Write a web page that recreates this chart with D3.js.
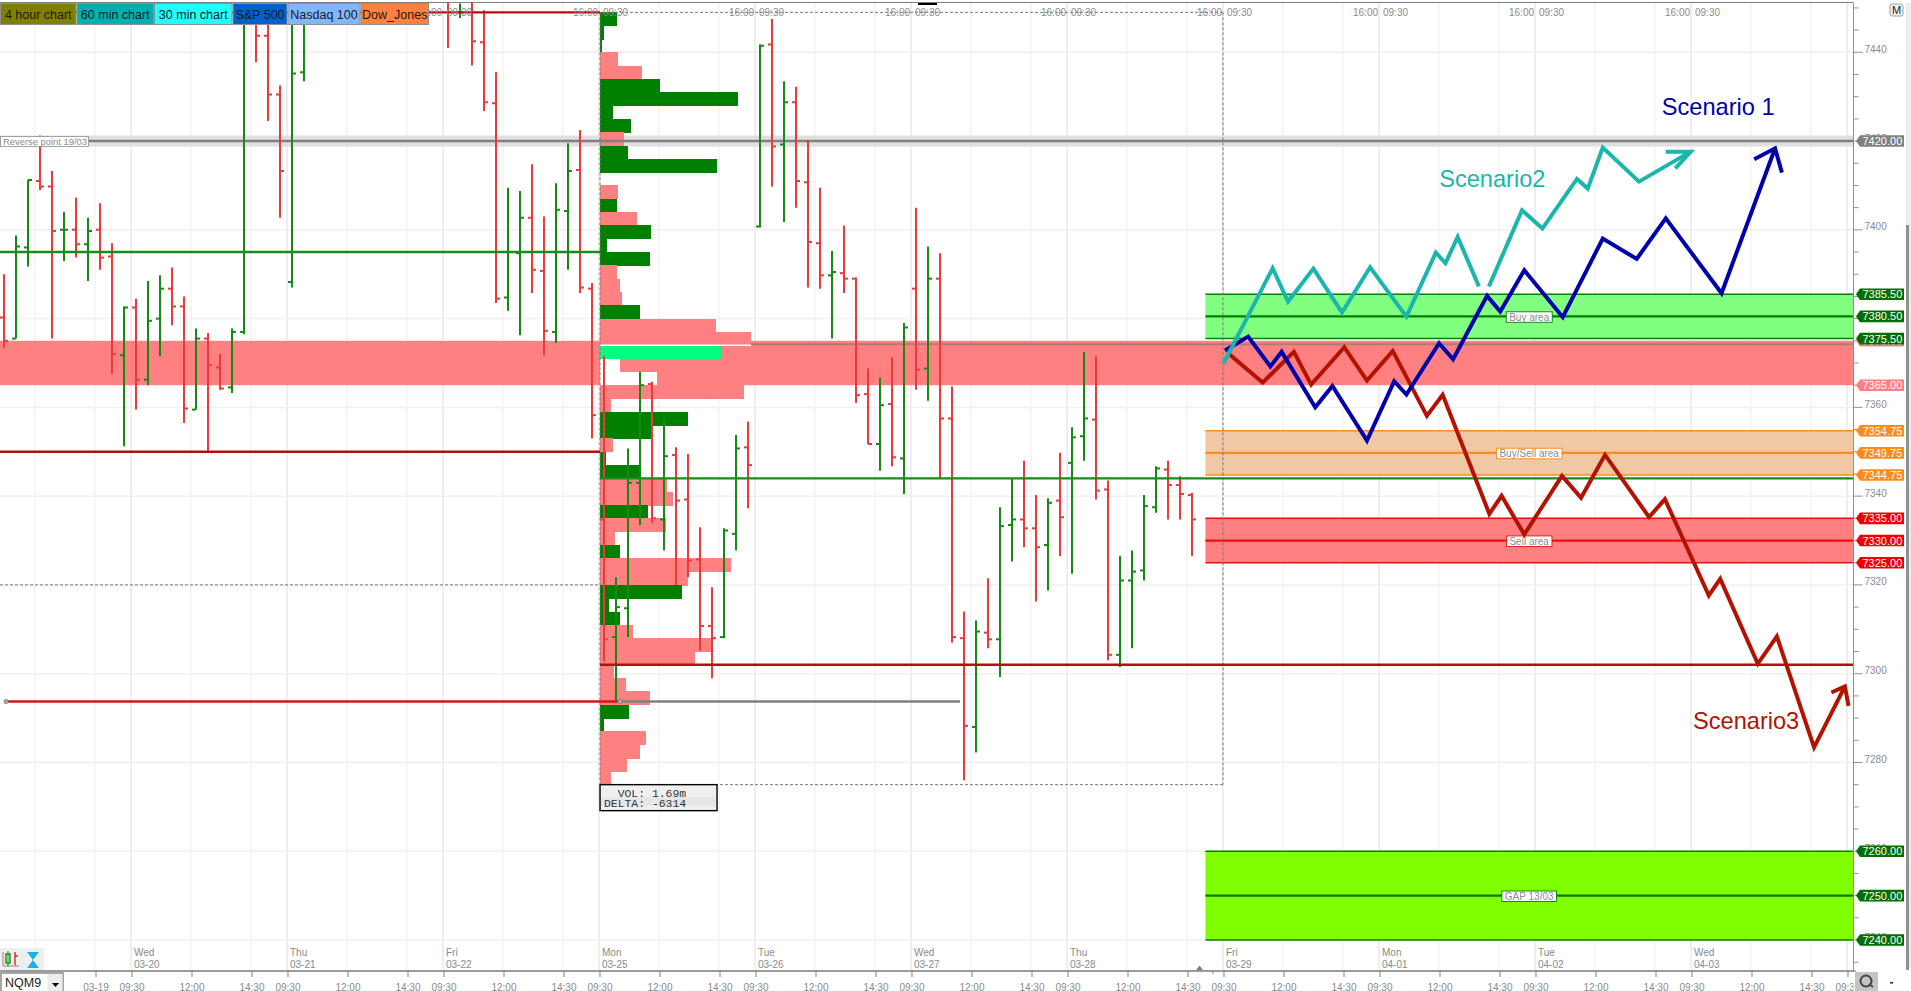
<!DOCTYPE html>
<html><head><meta charset="utf-8">
<script src="https://cdn.jsdelivr.net/npm/d3@7"></script>
<style>html,body{margin:0;padding:0;background:#fff;overflow:hidden}svg{display:block}text{font-family:"Liberation Sans",Arial,sans-serif}</style>
</head><body><svg id="c" width="1911" height="991"></svg>
<script>
// ---- OHLC bars (30 minute) ----
const barIndex=[0,1,2,3,4,5,6,7,8,9,10,11,12,13,14,15,16,17,18,19,20,21,22,23,24,25,37,38,39,40,41,42,43,44,45,46,47,48,49,50,51,52,53,54,55,56,57,58,59,60,61,62,63,64,65,66,67,68,69,70,71,72,73,74,75,76,77,78,79,80,81,82,83,84,85,86,87,88,89,90,91,92,93,94,95,96,97,98,99];
const highs=[7390,7398.75,7411.25,7421.25,7413.25,7404,7407.25,7402.75,7406,7397,7382.75,7384.5,7388.5,7389.75,7391.5,7385,7377.75,7376.75,7372,7377.75,7450,7452,7452,7432.5,7452,7452,7452,7451,7452,7449.5,7435.5,7409.5,7408.75,7414.75,7403,7410.5,7419.5,7422.5,7388,7371.5,7321.75,7350.75,7368,7365.75,7357.75,7351,7349.5,7333,7319.5,7332.75,7353.75,7356.75,7441.75,7447.5,7433.5,7432.25,7420.25,7409.5,7395.25,7401,7389.25,7368.75,7366.75,7371.25,7379,7405,7396.25,7394.75,7364.75,7314,7312,7321.5,7337.5,7344,7348,7340.25,7339.5,7349.75,7355.5,7372.5,7371.5,7343.5,7326.5,7327.75,7340.25,7346.75,7348,7344.5,7340.75];
const lows=[7373.5,7375.5,7391.75,7409,7375.5,7393,7393.75,7388.5,7391,7367.5,7351.25,7359.5,7365,7371.5,7378.5,7356.5,7359.5,7349.75,7364,7363.25,7376.5,7437.75,7424.5,7402.75,7387,7433.5,7441,7447.75,7437,7426.75,7383.5,7381.75,7376.25,7385.75,7371.75,7374.5,7391,7385.75,7353,7302.75,7293.75,7308.25,7333.5,7334,7327.75,7320,7321.75,7305.25,7299,7308,7327.75,7337.25,7400.5,7409.75,7401.75,7405,7387,7386.75,7375.5,7385.75,7361,7351.75,7345.75,7346.75,7340.5,7364,7361.5,7344,7307,7276,7282.25,7305.75,7299.25,7325.25,7328.5,7316.25,7318.75,7326.5,7322.5,7348,7339.25,7303,7301.5,7305.75,7321,7336.25,7334.75,7334.75,7326.5];
const opens=[7380.25,7375.5,7396,7411,7409.75,7400,7400,7396.75,7400,7394,7371.75,7382.5,7366.25,7380,7386.75,7382.75,7359.5,7375.5,7369,7364.5,7377,7452,7443.75,7430.5,7388.25,7435.5,7452,7449,7452,7442.25,7428.5,7384.75,7394.75,7402.75,7390.75,7377,7404.25,7413.5,7386.75,7334.75,7308.25,7314.75,7343,7365.25,7334.75,7349.25,7339.25,7325.75,7310.75,7308.25,7331.5,7351,7400.75,7441.75,7419.25,7428.75,7410.75,7397,7389.75,7390.25,7389,7363,7351.75,7360.75,7348.5,7386.75,7368.75,7389,7357.5,7308,7288,7309.25,7307.75,7333.5,7334.75,7332.75,7329,7339,7347.5,7353.5,7357.25,7341.5,7304.25,7321,7323.25,7337.5,7346,7342.5,7340.25];
const closes=[7375,7396.25,7411.25,7409.75,7399.75,7400,7396.75,7399.75,7393.75,7372,7382.5,7366.25,7379.5,7386.75,7382.75,7359.75,7375.5,7369.5,7364.25,7377,7450,7443.75,7430.5,7413.25,7435.25,7452,7451.5,7449,7442.5,7428.75,7384.5,7395,7402.75,7391,7377.25,7404.5,7413.25,7387,7358.25,7307.75,7315,7343,7365,7335,7349,7339,7325.5,7310.75,7308,7332.25,7350.75,7347,7441.5,7418.75,7428.75,7411,7397.25,7389.75,7390.5,7389,7362.75,7351.75,7360.5,7348.75,7378,7368.5,7389,7357.5,7308.25,7288.25,7309.5,7307.75,7333.25,7334.75,7332.75,7328.5,7338.5,7335.25,7353.25,7357.5,7341.25,7304.25,7321,7323,7337.75,7346.25,7342.5,7340.5,7334.75];

// ---- Volume profile, top row first (3 point rows) ----
const profileTopPrice=7449;
const profileVolumes=[17,4,2,18,42,60,138,13,31,24,28,117,0,18,17,37,51,7,50,17,20,22,40,116,151,122,20,57,144,11,88,51,13,6,40,67,73,48,66,15,20,131,88,82,9,20,33,113,95,14,26,50,29,4,46,40,27,11];
const profileSides="ggg pp gggg p gg - p g p ggg ppp g pp P ww p p gg p gg pp g p p g pp g g g ppp ppp gg ppp p".replace(/ /g,"").split("");

// ---- Horizontal levels ----
const levelPrices=[7395,7350,7449,7302,7344,7293.75,7293.75];
const levelStart=[-0.33,-0.33,-0.33,49.67,49.67,0.17,51.33];
const levelEnd=[49.67,49.67,49.67,154.08,154.08,51.33,79.67];
const levelColors=["#1a8a1a","#b01010","#b01010","#b01010","#1a8a1a","#d01818","#808080"];

// ---- Zones ----
const zoneNames=["Buy area","Buy/Sell area","Sell area","GAP 13/03"];
const zoneTop=[7385.5,7354.75,7335,7260];
const zoneMid=[7380.5,7349.75,7330,7250];
const zoneBottom=[7375.5,7344.75,7325,7240];
const zoneFill=["#80ff80","#f0c8a4","#ff8080","#80ff00"];
const zoneEdge=["#008000","#ff8c1a","#e81010","#008000"];
const zoneTag=["#006e00","#ff8c1a","#ee0000","#006e00"];

// ---- Scenarios: [bar position, price] ----
const scenario2a=[[101.63,7369.95],[105.72,7391.34],[107,7383.84],[109.12,7391.27],[111.5,7381.36],[113.84,7391.57],[116.87,7380.46],[119.32,7394.87],[120.12,7392.47],[121.14,7398.4],[122.91,7387.22]];
const scenario2b=[[123.74,7387.22],[126.5,7404.41],[128.2,7400.28],[131.08,7411.46],[131.98,7409.29],[133.23,7418.52],[136.25,7410.86],[140.56,7417.62]];
const scenario2head=[[138.48,7417.62],[140.56,7417.62],[139.28,7413.87]];
const scenario1=[[101.75,7372.8],[103.68,7375.96],[105.53,7369.2],[106.47,7372.5],[109.27,7360.04],[110.7,7364.84],[113.58,7352.53],[115.85,7365.9],[116.87,7362.9],[119.59,7374.45],[120.76,7370.85],[123.59,7385.12],[124.69,7381.58],[126.69,7390.9],[129.9,7380.31],[133.23,7398.03],[136.06,7393.45],[138.48,7402.6],[143.13,7385.71],[147.59,7418.37]];
const scenario1head=[[145.85,7415.9],[147.59,7418.37],[148.16,7412.9]];
const scenario3=[[102.01,7372.2],[104.89,7365.6],[107.49,7372.5],[108.93,7365.14],[111.69,7373.55],[113.58,7366.04],[115.73,7372.72],[118.57,7358.09],[119.89,7362.82],[123.78,7336],[124.8,7340.07],[126.69,7331.36],[129.83,7344.57],[131.42,7339.62],[133.42,7349.3],[137.09,7335.27],[138.41,7339.32],[142.07,7317.62],[143.02,7321.37],[146.15,7302.23],[147.74,7308.39],[150.84,7283.39],[153.41,7297.13]];
const scenario3head=[[152.28,7295.77],[153.41,7297.13],[153.71,7292.77]];

// ---- Axis labels ----
const priceMajor=[7440,7420,7400,7380,7360,7340,7320,7300,7280,7260,7240];
const gridPrices=[7440,7420,7400,7380,7360,7340,7320,7300,7280,7260,7240];
const dayNames=["Wed","Thu","Fri","Mon","Tue","Wed","Thu","Fri","Mon","Tue","Wed"];
const dayDates=["03-20","03-21","03-22","03-25","03-26","03-27","03-28","03-29","04-01","04-02","04-03"];
const buttonNames=["4 hour chart","60 min chart","30 min chart","S&P 500","Nasdaq 100","Dow_Jones"];
const buttonColors=["#808000","#00b0b0","#20ffff","#0060d0","#80b8ff","#ff8040"];
const buttonEdges=[0,76.5,154,232.5,287.5,360.5,429];

const W=1911,H=991,AX=1853.5,BOT=971;
const svg=d3.select("#c");
const x=d3.scaleLinear().domain([0,99]).range([4,1192]);
const y=d3.scaleLinear().domain([7440,7240]).range([52.3,940]);
const perDay=13, firstOpen=10.583;
const dayIdx=d=>firstOpen+perDay*d;
const GREY="#8a8a8a";
svg.append("defs").append("clipPath").attr("id","plot").append("rect").attr("x",0).attr("y",3).attr("width",AX).attr("height",BOT-3);
svg.append("defs").append("clipPath").attr("id","page").append("rect").attr("x",0).attr("y",0).attr("width",AX).attr("height",H);
const plot=svg.append("g").attr("clip-path","url(#plot)");

// grid
const gx=plot.append("g");
for(let d=-1;d<=11;d++){
  [0,5,10].forEach(o=>{
    const i=dayIdx(d)+o;
    if(x(i)<0||x(i)>AX) return;
    gx.append("line").attr("x1",x(i)).attr("x2",x(i)).attr("y1",3).attr("y2",BOT).attr("stroke",o==0?"#eeeeee":"#f3f3f3").attr("stroke-width",o==0?2:1.5);
  });
}
gridPrices.forEach(p=>plot.append("line").attr("x1",0).attr("x2",AX).attr("y1",y(p)).attr("y2",y(p)).attr("stroke","#f0f0f0").attr("stroke-width",1.5));

// reverse point band
plot.append("rect").attr("x",0).attr("width",AX).attr("y",y(7421.25)).attr("height",y(7418.75)-y(7421.25)).attr("fill","#e0e0e0");

// pink band
plot.append("rect").attr("x",0).attr("width",AX).attr("y",y(7375)).attr("height",y(7365)-y(7375)).attr("fill","#ff8080");
plot.append("line").attr("x1",x(49.67)).attr("x2",AX).attr("y1",y(7374.25)).attr("y2",y(7374.25)).attr("stroke","#b07a7a").attr("stroke-width",2);

// zones
zoneNames.forEach((n,i)=>{
  const x0=x(100.12),x1=x(154.08);
  plot.append("rect").attr("x",x0).attr("width",x1-x0).attr("y",y(zoneTop[i])).attr("height",y(zoneBottom[i])-y(zoneTop[i])).attr("fill",zoneFill[i]);
  [[zoneTop[i],1.5],[zoneMid[i],2.2],[zoneBottom[i],1.5]].forEach(a=>plot.append("line").attr("x1",x0).attr("x2",x1).attr("y1",y(a[0])).attr("y2",y(a[0])).attr("stroke",zoneEdge[i]).attr("stroke-width",a[1]));
});

// volume profile
const vol=d3.scaleLinear().domain([0,100]).range([x(49.67),x(49.67)+100]);
const sideColor={g:"#007f00",p:"#ff8080",P:"#00ff7f",w:"#ffffff"};
plot.append("g").attr("shape-rendering","crispEdges").selectAll("rect").data(profileVolumes.map((v,i)=>({v,s:profileSides[i],i}))).join("rect")
  .attr("x",vol(0)).attr("width",d=>vol(d.v)-vol(0))
  .attr("y",d=>y(profileTopPrice-3*d.i)).attr("height",d=>y(profileTopPrice-3*(d.i+1))-y(profileTopPrice-3*d.i)+.6)
  .attr("fill",d=>sideColor[d.s]||"none");
plot.append("line").attr("x1",vol(0)).attr("x2",vol(151)).attr("y1",y(7374)).attr("y2",y(7374)).attr("stroke","#fff").attr("stroke-width",1.6);

// reverse point centre line
plot.append("line").attr("x1",0).attr("x2",AX).attr("y1",y(7420)).attr("y2",y(7420)).attr("stroke","#808080").attr("stroke-width",2.4);

// dashed session frame
const dash=(x1,y1,x2,y2)=>plot.append("line").attr("x1",x1).attr("y1",y1).attr("x2",x2).attr("y2",y2).attr("stroke","#777").attr("stroke-width",1).attr("stroke-dasharray","3 2");
dash(x(49.67),y(7449),x(101.58),y(7449));
dash(x(49.67),y(7449),x(49.67),y(7275));
dash(x(101.58),y(7449),x(101.58),y(7275));
dash(x(49.67),y(7275),x(101.58),y(7275));
dash(0,y(7320),x(49.67),y(7320));

// OHLC bars
const gb=plot.append("g");
barIndex.forEach((b,i)=>{
  const c=closes[i]>=opens[i]?"#148a14":"#ea3a3a", X=x(b);
  gb.append("line").attr("x1",X).attr("x2",X).attr("y1",y(highs[i])).attr("y2",y(lows[i])).attr("stroke",c).attr("stroke-width",2);
  gb.append("line").attr("x1",X-4).attr("x2",X).attr("y1",y(opens[i])).attr("y2",y(opens[i])).attr("stroke",c).attr("stroke-width",2);
  gb.append("line").attr("x1",X).attr("x2",X+4).attr("y1",y(closes[i])).attr("y2",y(closes[i])).attr("stroke",c).attr("stroke-width",2);
});

// levels
levelPrices.forEach((p,i)=>plot.append("line").attr("x1",x(levelStart[i])).attr("x2",x(levelEnd[i])).attr("y1",y(p)).attr("y2",y(p)).attr("stroke",levelColors[i]).attr("stroke-width",2.4));
[0.17,51.33].forEach(b=>plot.append("circle").attr("cx",x(b)).attr("cy",y(7293.75)).attr("r",2.2).attr("fill","#a8a8a8").attr("stroke","#777").attr("stroke-width",.6));

// zone labels
zoneNames.forEach((n,i)=>{
  const g=plot.append("g");
  const cx=x(127.1), cy=y(zoneMid[i]);
  const t=g.append("text").attr("x",cx).attr("y",cy+4.2).attr("text-anchor","middle").attr("font-size",10).attr("fill",GREY).text(n);
  const w=t.node().getComputedTextLength()+6;
  g.insert("rect","text").attr("x",cx-w/2).attr("y",cy-4.6).attr("width",w).attr("height",10.5).attr("fill","#fff").attr("stroke",zoneEdge[i]).attr("stroke-width",.9);
});

// reverse label
const rv=plot.append("g");
rv.append("rect").attr("x",0.5).attr("y",y(7420)-4.5).attr("width",88).attr("height",10).attr("fill","#fff").attr("stroke","#909090").attr("stroke-width",.8);
rv.append("text").attr("x",3).attr("y",y(7420)+3.8).attr("font-size",9.4).attr("fill",GREY).text("Reverse point 19/03");

// VOL box
const vb=plot.append("g");
vb.append("rect").attr("x",x(49.67)).attr("y",y(7275)).attr("width",117).attr("height",26).attr("fill","#f0f0f0").attr("stroke","#000").attr("stroke-width",1.4);
vb.append("rect").attr("x",x(49.67)+1).attr("y",y(7275)+12.5).attr("width",115).attr("height",9).attr("fill","#e6e6e6");
[["  VOL: 1.69m",12],["DELTA: -6314",22]].forEach(a=>vb.append("text").attr("x",x(49.67)+4).attr("y",y(7275)+a[1]).attr("xml:space","preserve").style("white-space","pre").style("font-family","'Liberation Mono',monospace").attr("font-size",11.4).attr("fill","#333").text(a[0]));

// scenarios
const line=d3.line().x(d=>x(d[0])).y(d=>y(d[1]));
const drawPath=(a,c)=>plot.append("path").attr("d",line(a)).attr("fill","none").attr("stroke",c).attr("stroke-width",4).attr("stroke-linejoin","miter");
const TEAL="#1ab5ad",BLUE="#0000aa",DRED="#b41200";
[scenario3,scenario3head].forEach(a=>drawPath(a,DRED));
[scenario1,scenario1head].forEach(a=>drawPath(a,BLUE));
[scenario2a,scenario2b,scenario2head].forEach(a=>drawPath(a,TEAL));
const bigLabel=(t,bi,p,c)=>plot.append("text").attr("x",x(bi)).attr("y",y(p)).attr("font-size",23.6).attr("fill",c).text(t);
bigLabel("Scenario 1",138.15,7425.9,BLUE);
bigLabel("Scenario2",119.6,7409.7,TEAL);
bigLabel("Scenario3",140.75,7287.6,DRED);

// top time labels
for(let d=2;d<=10;d++){
  [["09:30",4],["16:00",-26]].forEach(a=>plot.append("text").attr("x",x(dayIdx(d))+a[1]).attr("y",15.5).attr("font-size",10).attr("fill",GREY).text(a[0]));
}
// day labels
dayNames.forEach((n,i)=>{
  const X=x(dayIdx(i))+3;
  plot.append("text").attr("x",X).attr("y",956).attr("font-size",10).attr("fill",GREY).text(n);
  plot.append("text").attr("x",X).attr("y",968).attr("font-size",10).attr("fill",GREY).text(dayDates[i]);
});

// top frame + buttons
svg.append("rect").attr("x",0).attr("y",0).attr("width",W).attr("height",3).attr("fill","#fff");
svg.append("line").attr("x1",0).attr("x2",AX).attr("y1",2.5).attr("y2",2.5).attr("stroke","#808080").attr("stroke-width",1);
svg.append("rect").attr("x",918).attr("y",3).attr("width",19).attr("height",2).attr("fill","#000");
buttonNames.forEach((n,i)=>{
  svg.append("rect").attr("x",buttonEdges[i]+.5).attr("y",3.5).attr("width",buttonEdges[i+1]-buttonEdges[i]-1).attr("height",21).attr("fill",buttonColors[i]).attr("stroke","#909090").attr("stroke-width",1);
  svg.append("text").attr("x",(buttonEdges[i]+buttonEdges[i+1])/2).attr("y",18.5).attr("text-anchor","middle").attr("font-size",12.5).attr("fill","#1a1a1a").text(n);
});

// right axis
const ra=svg.append("g");
ra.append("line").attr("x1",AX).attr("x2",AX).attr("y1",3).attr("y2",BOT).attr("stroke","#909090").attr("stroke-width",1);
d3.range(7235,7456,5).forEach(p=>{
  const major=(p%20===0);
  ra.append("line").attr("x1",AX).attr("x2",AX+(major?9:5)).attr("y1",y(p)).attr("y2",y(p)).attr("stroke","#909090").attr("stroke-width",1);
});
priceMajor.forEach(p=>ra.append("text").attr("x",AX+11).attr("y",y(p)+0.5).attr("font-size",10).attr("fill",GREY).text(p));

// price tags
function tag(p,col,txt){
  const Y=y(p),l=AX+2.5,r=1904;
  svg.append("path").attr("d",d3.line()([[l,Y],[l+4,Y-5.8],[r,Y-5.8],[r,Y+5.8],[l+4,Y+5.8]])+"Z").attr("fill",col);
  svg.append("text").attr("x",l+6.5).attr("y",Y+4).attr("font-size",11).attr("fill","#fff").text(txt);
}
tag(7375,"#ff8080","7375.00");
tag(7365,"#ff8080","7365.00");
tag(7420,"#808080","7420.00");
zoneNames.forEach((n,i)=>[zoneTop[i],zoneMid[i],zoneBottom[i]].forEach(p=>tag(p,zoneTag[i],p.toFixed(2))));

// bottom axis
svg.append("rect").attr("x",0).attr("y",BOT).attr("width",W).attr("height",H-BOT).attr("fill","#fff");
svg.append("line").attr("x1",0).attr("x2",AX+2).attr("y1",BOT).attr("y2",BOT).attr("stroke","#7a7a7a").attr("stroke-width",1.6);
const ba=svg.append("g").attr("clip-path","url(#page)");
for(let d=-1;d<=11;d++){
  [["09:30",0],["12:00",5],["14:30",10]].forEach(a=>{
    const i=dayIdx(d)+a[1],X=x(i)+1;
    if(X<80||X>AX+30) return;
    ba.append("line").attr("x1",X).attr("x2",X).attr("y1",BOT).attr("y2",BOT+6).attr("stroke","#808080");
    ba.append("text").attr("x",X).attr("y",991).attr("text-anchor","middle").attr("font-size",10).attr("fill",GREY).text(d==-1&&a[1]==10?"03-19":a[0]);
  });
}
svg.append("path").attr("d",d3.line()([[1199.5,965.5],[1196,970],[1203,970]])+"Z").attr("fill","#808080");
ba.append("line").attr("x1",1213).attr("x2",1213).attr("y1",BOT).attr("y2",BOT+3).attr("stroke","#808080");

// symbol box
svg.append("rect").attr("x",1).attr("y",973).attr("width",62).attr("height",19).attr("fill","#fff").attr("stroke","#808080").attr("stroke-width",1.4);
svg.append("rect").attr("x",47.5).attr("y",974).attr("width",15).attr("height",18).attr("fill","#ececec");
svg.append("path").attr("d",d3.line()([[52,983],[59,983],[55.5,987]])+"Z").attr("fill","#000");
svg.append("text").attr("x",5).attr("y",987).attr("font-size",12.5).attr("fill","#222").text("NQM9");

// tool icons
svg.append("rect").attr("x",0).attr("y",948).attr("width",44).attr("height",22).attr("fill","#eeeeee");
svg.append("path").attr("d","M3 952V966H19").attr("fill","none").attr("stroke","#888").attr("stroke-width",1);
svg.append("rect").attr("x",6).attr("y",954).attr("width",4).attr("height",9).attr("fill","#fff").attr("stroke","#108a10").attr("stroke-width",1.4);
svg.append("line").attr("x1",8).attr("x2",8).attr("y1",951).attr("y2",966).attr("stroke","#108a10").attr("stroke-width",1);
svg.append("line").attr("x1",15).attr("x2",15).attr("y1",952).attr("y2",965).attr("stroke","#e02020").attr("stroke-width",1.4);
svg.append("line").attr("x1",15).attr("x2",18).attr("y1",956).attr("y2",956).attr("stroke","#e02020").attr("stroke-width",1.4);
svg.append("path").attr("d","M27 952H39L33 960L39 968H27L33 960Z").attr("fill","#18b4dc");

// right-hand controls
svg.append("rect").attr("x",1890).attr("y",4).attr("width",13).attr("height",12).attr("rx",2).attr("fill","#f2f2f2").attr("stroke","#a0a0a0");
svg.append("text").attr("x",1896.5).attr("y",14).attr("text-anchor","middle").attr("font-size",11).attr("fill","#222").text("M");
svg.append("rect").attr("x",1906).attr("y",3).attr("width",5).attr("height",965).attr("fill","#ededed");
svg.append("rect").attr("x",1906).attr("y",225).attr("width",3).attr("height",745).attr("fill","#909090");
svg.append("rect").attr("x",1855).attr("y",972).attr("width",23).attr("height",19).attr("fill","#c4c4c4");
svg.append("circle").attr("cx",1866).attr("cy",981).attr("r",5.5).attr("fill","none").attr("stroke","#444").attr("stroke-width",2);
svg.append("line").attr("x1",1869).attr("x2",1873).attr("y1",984).attr("y2",987).attr("stroke","#444").attr("stroke-width",2);
svg.append("rect").attr("x",1890).attr("y",982).attr("width",3).attr("height",1.5).attr("fill","#222");
</script></body></html>
